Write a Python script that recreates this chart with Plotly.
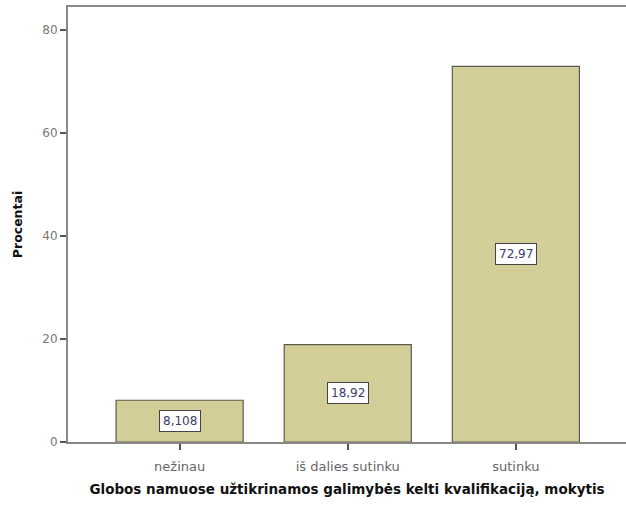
import plotly.graph_objects as go

categories = ["nežinau", "iš dalies sutinku", "sutinku"]
values = [8.108, 18.92, 72.97]
y_ticks = [0, 20, 40, 60, 80]

FONT = "DejaVu Sans, Liberation Sans, Arial"

def fmt(v):
    return f"{v:.4g}".replace(".", ",")

fig = go.Figure()
fig.add_trace(go.Bar(
    x=list(range(len(categories))), y=values, width=0.756,
    marker=dict(color="#D3CE97", line=dict(color="#5a5a50", width=1.2)),
    hoverinfo="skip",
))

annotations = []
for i, v in enumerate(values):
    annotations.append(dict(
        x=i, y=v / 2, xref="x", yref="y", text=fmt(v), showarrow=False,
        font=dict(family=FONT, size=12, color="#3c3c6a"),
        bgcolor="white", bordercolor="#444", borderwidth=1, borderpad=3,
    ))

fig.update_layout(
    width=626, height=506,
    margin=dict(l=68, r=0, t=7, b=64),
    paper_bgcolor="white", plot_bgcolor="white",
    showlegend=False,
    font=dict(family=FONT, size=12, color="#555"),
    annotations=annotations,
    xaxis=dict(
        range=[-0.664, 2.655],
        tickmode="array", tickvals=list(range(len(categories))), ticktext=categories,
        ticks="outside", ticklen=6, tickcolor="#555", tickwidth=1.5,
        ticklabelstandoff=5,
        showline=True, linecolor="#888", linewidth=2, mirror=True,
        showgrid=False, zeroline=False,
        tickfont=dict(family=FONT, size=13, color="#666"),
        title=dict(text="<b>Globos namuose užtikrinamos galimybės kelti kvalifikaciją, mokytis</b>",
                   font=dict(size=13.5, color="#111", family=FONT), standoff=12),
    ),
    yaxis=dict(
        range=[0, 84.5],
        tickmode="array", tickvals=y_ticks,
        ticks="outside", ticklen=6, tickcolor="#555", tickwidth=1.5,
        showline=True, linecolor="#888", linewidth=2,
        showgrid=False, zeroline=False,
        tickfont=dict(family=FONT, size=12, color="#777"),
        title=dict(text="<b>Procentai</b>", font=dict(size=12.5, color="#111", family=FONT), standoff=17),
    ),
)

fig.write_html("out.html", config={"displayModeBar": False},
               post_script="document.body.style.margin='0';")
